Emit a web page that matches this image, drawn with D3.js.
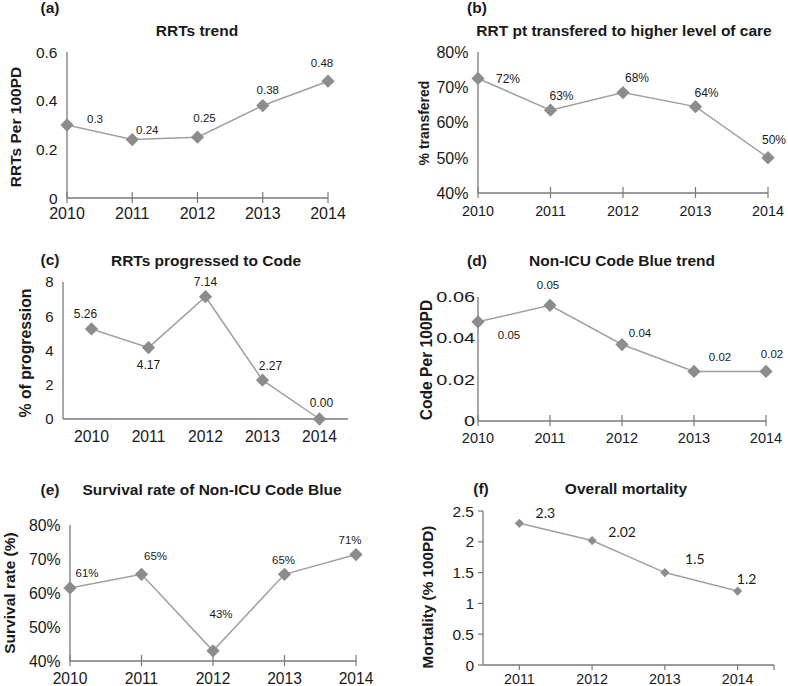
<!DOCTYPE html>
<html><head><meta charset="utf-8">
<script src="https://cdn.jsdelivr.net/npm/d3@7"></script>
<style>body{margin:0;background:#fff}svg{display:block}text{font-family:"Liberation Sans",Arial,sans-serif;fill:#1a1a1a}</style>
</head><body><svg id="c" width="788" height="686"></svg>
<script>
// ---- data ----
const years5 = ["2010","2011","2012","2013","2014"];
const years4 = ["2011","2012","2013","2014"];
const rrtRate = [0.30,0.24,0.25,0.38,0.48];
const rrtRateLabels = ["0.3","0.24","0.25","0.38","0.48"];
const rrtTicks = [0,0.2,0.4,0.6];
const rrtTickLabels = ["0","0.2","0.4","0.6"];
const transferPct = [0.725,0.635,0.685,0.645,0.50];
const transferLabels = ["72%","63%","68%","64%","50%"];
const pctTicks = [0.4,0.5,0.6,0.7,0.8];
const pctTickLabels = ["40%","50%","60%","70%","80%"];
const progressionPct = [5.26,4.17,7.14,2.27,0.00];
const progressionLabels = ["5.26","4.17","7.14","2.27","0.00"];
const progTicks = [0,2,4,6,8];
const progTickLabels = ["0","2","4","6","8"];
const codeRate = [0.048,0.056,0.037,0.024,0.024];
const codeLabels = ["0.05","0.05","0.04","0.02","0.02"];
const codeTicks = [0,0.02,0.04,0.06];
const codeTickLabels = ["0","0.02","0.04","0.06"];
const survivalPct = [0.615,0.655,0.43,0.655,0.713];
const survivalLabels = ["61%","65%","43%","65%","71%"];
const mortality = [2.3,2.02,1.5,1.2];
const mortalityLabels = ["2.3","2.02","1.5","1.2"];
const mortTicks = [0,0.5,1,1.5,2,2.5];
const mortTickLabels = ["0","0.5","1","1.5","2","2.5"];

// ---- layout ----
const panels = [
 {tag:"(a)",title:"RRTs trend",ylab:"RRTs Per 100PD",cats:years5,vals:rrtRate,labs:rrtRateLabels,
  ticks:rrtTicks,tickLabs:rrtTickLabels,type:"point",x:[67,328],y:[198,52],
  tagPos:[50,13],titlePos:[197,36],ylabPos:[15,127],yearY:219,tickFs:15.5,yearFs:16,ylabFs:15.5,valFs:11.5,
  off:[[28,-6],[15,-10],[7,-19],[5,-16],[-6,-18]]},
 {tag:"(b)",title:"RRT pt transfered to higher level of care",ylab:"% transfered",cats:years5,vals:transferPct,labs:transferLabels,
  ticks:pctTicks,tickLabs:pctTickLabels,type:"point",x:[478,768],y:[193,52],
  tagPos:[477,13],titlePos:[624,36],ylabPos:[424,123],yearY:216,tickFs:16,yearFs:14.3,ylabFs:14,valFs:12,
  off:[[30,0],[11,-14],[14,-15],[11,-14],[6,-18]]},
 {tag:"(c)",title:"RRTs progressed to Code",ylab:"% of progression",cats:years5,vals:progressionPct,labs:progressionLabels,
  ticks:progTicks,tickLabs:progTickLabels,type:"band",x:[63,348],y:[419,282],
  tagPos:[50,265],titlePos:[206,266],ylabPos:[25,353],yearY:442,noTicks:true,tickFs:15,yearFs:15.7,ylabFs:15.8,valFs:12,
  off:[[-6,-15],[0,17],[0,-15],[8,-14],[2,-16]]},
 {tag:"(d)",title:"Non-ICU Code Blue trend",ylab:"Code Per 100PD",cats:years5,vals:codeRate,labs:codeLabels,
  ticks:codeTicks,tickLabs:codeTickLabels,type:"point",x:[478,766],y:[421,297],
  tagPos:[477,266],titlePos:[622,266],ylabPos:[426,360],yearY:443,tickFs:14,tickScaleX:1.42,tickGap:3,yearFs:14.5,ylabFs:15.6,valFs:11.5,
  off:[[31,13],[-2,-20],[18,-12],[26,-15],[6,-18]]},
 {tag:"(e)",title:"Survival rate of Non-ICU Code Blue",ylab:"Survival rate (%)",cats:years5,vals:survivalPct,labs:survivalLabels,
  ticks:pctTicks,tickLabs:pctTickLabels,type:"point",x:[70,356],y:[661,525],
  tagPos:[50,495],titlePos:[212,495],ylabPos:[9,593],yearY:684,tickFs:15.8,yearFs:15.6,ylabFs:15.5,valFs:11.5,
  off:[[17,-15],[14,-18],[8,-37],[-1,-14],[-6,-15]]},
 {tag:"(f)",title:"Overall mortality",ylab:"Mortality (% 100PD)",cats:years4,vals:mortality,labs:mortalityLabels,
  ticks:mortTicks,tickLabs:mortTickLabels,type:"band",x:[483,774],y:[665,511],
  tagPos:[481,494],titlePos:[626,494],ylabPos:[427,597],yearY:684,small:true,yTickMarks:true,tickFs:15.5,yearFs:14.3,ylabFs:15.3,valFs:14,
  off:[[26,-10],[30,-9],[30,-14],[9,-12]]}
];

const svg = d3.select("#c");
const axisCol = "#7a7a7a", lineCol = "#a0a0a0", markCol = "#8c8c8c";

panels.forEach(p => {
  const g = svg.append("g");
  const y = d3.scaleLinear().domain([p.ticks[0], p.ticks[p.ticks.length-1]]).range(p.y);
  let x;
  if (p.type === "point") {
    x = d3.scalePoint().domain(p.cats).range(p.x);
  } else {
    const b = d3.scaleBand().domain(p.cats).range(p.x);
    x = c => b(c) + b.bandwidth()/2;
  }
  const x0 = p.x[0], xAxisEnd = p.x[1];
  g.append("line").attr("x1",x0).attr("x2",x0).attr("y1",p.y[0]).attr("y2",p.y[1])
    .attr("stroke",axisCol).attr("stroke-width",1.3);
  g.append("line").attr("x1",x0).attr("x2",xAxisEnd).attr("y1",p.y[0]).attr("y2",p.y[0])
    .attr("stroke",axisCol).attr("stroke-width",1.3);
  if (!p.noTicks) {
    if (p.type === "point") {
      p.cats.forEach(c => g.append("line").attr("x1",x(c)).attr("x2",x(c))
        .attr("y1",p.y[0]-6).attr("y2",p.y[0]+5).attr("stroke",axisCol).attr("stroke-width",1.2));
    } else {
      p.cats.map(x).concat([xAxisEnd]).forEach(xx => g.append("line").attr("x1",xx).attr("x2",xx)
        .attr("y1",p.y[0]).attr("y2",p.y[0]+5).attr("stroke",axisCol).attr("stroke-width",1.2));
    }
  }
  if (p.yTickMarks) {
    p.ticks.forEach(t => g.append("line").attr("x1",x0-5).attr("x2",x0)
      .attr("y1",y(t)).attr("y2",y(t)).attr("stroke",axisCol).attr("stroke-width",1.2));
  }
  const gap = p.tickGap != null ? p.tickGap : (p.yTickMarks ? 9 : 9.5);
  const sx = p.tickScaleX || 1;
  p.ticks.forEach((t,i) => g.append("text")
    .attr("transform",`translate(${x0-gap},${y(t)}) scale(${sx},1)`).attr("dy","0.36em")
    .attr("text-anchor","end").style("font-size",p.tickFs+"px").text(p.tickLabs[i]));
  p.cats.forEach(c => g.append("text").attr("x",x(c)).attr("y",p.yearY)
    .attr("text-anchor","middle").style("font-size",p.yearFs+"px").text(c));
  const pts = p.cats.map((c,i) => [x(c), y(p.vals[i])]);
  g.append("path").attr("d", d3.line()(pts)).attr("fill","none")
    .attr("stroke",lineCol).attr("stroke-width",1.5);
  const sym = d3.symbol(d3.symbolSquare, p.small ? 42 : 88);
  pts.forEach(pt => g.append("path").attr("d", sym())
    .attr("transform",`translate(${pt[0]},${pt[1]}) rotate(45)`).attr("fill",markCol));
  pts.forEach((pt,i) => g.append("text").attr("x",pt[0]+p.off[i][0]).attr("y",pt[1]+p.off[i][1])
    .attr("dy","0.36em").attr("text-anchor","middle")
    .style("font-family", p.small ? "Lato, 'Open Sans', sans-serif" : null)
    .style("font-size", p.valFs+"px").text(p.labs[i]));
  g.append("text").attr("x",p.tagPos[0]).attr("y",p.tagPos[1]).attr("text-anchor","middle")
    .style("font-size","15.5px").style("font-weight","bold").text(p.tag);
  g.append("text").attr("x",p.titlePos[0]).attr("y",p.titlePos[1]).attr("text-anchor","middle")
    .style("font-size","15.5px").style("font-weight","bold").text(p.title);
  g.append("text").attr("transform",`translate(${p.ylabPos[0]},${p.ylabPos[1]}) rotate(-90)`)
    .attr("dy","0.36em").attr("text-anchor","middle")
    .style("font-size",p.ylabFs+"px").style("font-weight","bold").text(p.ylab);
});
</script></body></html>
